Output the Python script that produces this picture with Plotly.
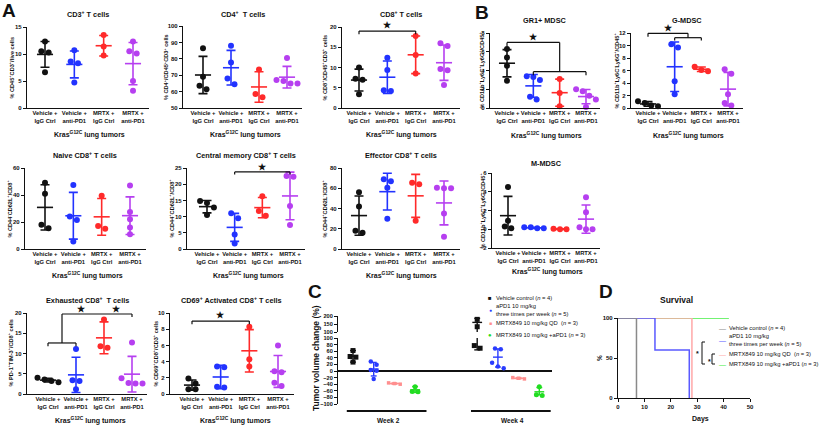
import numpy as np
import plotly.graph_objects as go

W, H = 825, 427
FONT = "Liberation Sans, Arial, Helvetica, sans-serif"

# ---------------- data: panels A / B ----------------
group_labels = ["Vehicle +<br>IgG Ctrl", "Vehicle +<br>anti-PD1", "MRTX +<br>IgG Ctrl", "MRTX +<br>anti-PD1"]
group_colors = ["#111111", "#2233ff", "#ff2a2a", "#b63ff0"]

cd3_values = [[12.3, 10.5, 10.3, 6.6], [10.7, 8.6, 8.3, 4.7], [13.5, 11.4, 9.7], [12.3, 10.5, 10.1, 5.0, 3.2]]
cd4_values = [[86.5, 69.0, 63.5, 61.5], [88.0, 77.7, 68.0, 64.5], [73.5, 58.5, 56.5], [80.5, 67.0, 66.5, 65.0, 65.0]]
cd8_values = [[10.0, 7.2, 7.0, 3.4], [12.4, 9.4, 4.4, 4.2], [17.8, 13.1, 8.5], [16.0, 15.3, 9.6, 9.3, 5.7]]
naive_values = [[49.0, 41.0, 18.0, 15.3], [47.5, 24.0, 21.5, 5.5], [39.5, 17.0, 15.0], [47.0, 27.5, 22.0, 16.0, 11.0]]
cm_values = [[14.8, 14.2, 12.8, 10.5], [11.0, 9.5, 4.5, 1.7], [16.3, 11.7, 10.3], [22.5, 22.3, 13.3, 7.4]]
eff_values = [[56.0, 42.0, 18.0, 16.0], [69.0, 67.0, 60.5, 30.0], [65.5, 64.0, 28.0], [60.5, 60.0, 60.0, 35.0, 12.0]]
exh_values = [[4.0, 3.6, 3.2, 2.9], [11.1, 3.4, 3.2, 1.2], [18.4, 11.8, 11.4], [12.7, 3.9, 2.7, 2.6, 2.6]]
cd69_values = [[1.9, 1.3, 0.6, 0.6], [3.4, 3.3, 0.9, 0.8], [8.3, 4.3, 3.4], [6.0, 2.8, 2.7, 1.4, 1.0]]
gr1_values = [[6.3, 5.4, 4.5, 2.9], [3.4, 3.3, 3.0, 1.2, 0.9], [3.1, 1.6, 0.2], [2.0, 1.8, 1.3, 0.9, 0.1]]
gmdsc_values = [[1.1, 0.8, 0.4, 0.3], [10.2, 9.7, 4.3, 2.2], [6.6, 6.1, 5.9], [6.2, 5.5, 2.2, 0.8, 0.4]]
mmdsc_values = [[4.5, 0.9, 0.3, 0.1], [0.2, 0.1, 0.1, 0.2], [0.05, 0.0, 0.0], [3.4, 1.8, 0.2, 0.0, 0.0]]

cd3_ticks = [0, 5, 10, 15]
cd4_ticks = [50, 60, 70, 80, 90, 100]
cd8_ticks = [0, 5, 10, 15, 20]
naive_ticks = [0, 20, 40, 60]
cm_ticks = [0, 5, 10, 15, 20, 25]
eff_ticks = [0, 20, 40, 60, 80]
exh_ticks = [0, 5, 10, 15, 20]
cd69_ticks = [0, 2, 4, 6, 8, 10]
gr1_ticks = [0, 2, 4, 6, 8]
gmdsc_ticks = [0, 2, 4, 6, 8, 10, 12]
mmdsc_ticks = [-2, 0, 2, 4, 6]

panel_titles = ["CD3<sup>+</sup> T cells", "CD4<sup>+</sup>  T cells", "CD8<sup>+</sup> T cells",
                "Naive CD8<sup>+</sup> T cells", "Central memory CD8<sup>+</sup> T cells", "Effector CD8<sup>+</sup> T cells",
                "Exhausted CD8<sup>+</sup>  T cells", "CD69<sup>+</sup> Activated CD8<sup>+</sup> T cells",
                "GR1+ MDSC", "G-MDSC", "M-MDSC"]
panel_ytitles = ["% CD45<sup>+</sup>CD3<sup>+</sup>/live cells", "% CD4<sup>+</sup>/CD45<sup>+</sup>CD3<sup>+</sup> cells",
                 "% CD8<sup>+</sup>/CD45<sup>+</sup>CD3<sup>+</sup> cells", "% CD44<sup>-</sup>CD62L<sup>+</sup>/CD8<sup>+</sup>",
                 "% CD44<sup>+</sup>CD62L<sup>+</sup>/CD8<sup>+</sup>", "% CD44<sup>+</sup>CD62L<sup>-</sup>/CD8<sup>+</sup>",
                 "% PD-1<sup>+</sup>TIM-3<sup>+</sup>/CD8<sup>+</sup> cells", "% CD69<sup>+</sup>CD8<sup>+</sup>/CD3<sup>+</sup> cells",
                 "% CD11b<sup>+</sup>Ly6C<sup>+</sup>Ly6G<sup>+</sup>/CD45<sup>+</sup>",
                 "% CD11b<sup>+</sup>Ly6C<sup>-</sup>Ly6G<sup>+</sup>/CD45<sup>+</sup>",
                 "% CD11b<sup>+</sup>Ly6C<sup>+</sup>Ly6G<sup>-</sup>/CD45<sup>+</sup>"]
panel_values = [cd3_values, cd4_values, cd8_values, naive_values, cm_values, eff_values,
                exh_values, cd69_values, gr1_values, gmdsc_values, mmdsc_values]
panel_ticks = [cd3_ticks, cd4_ticks, cd8_ticks, naive_ticks, cm_ticks, eff_ticks,
               exh_ticks, cd69_ticks, gr1_ticks, gmdsc_ticks, mmdsc_ticks]
xaxis_title = "Kras<sup>G12C</sup> lung tumors"

# ---------------- data: panel C ----------------
c_labels = ["Vehicle control (<i>n</i> = 4)", "aPD1 10 mg/kg<br>three times per week (<i>n</i> = 5)",
            "MRTX849 10 mg/kg QD  (<i>n</i> = 3)", "MRTX849 10 mg/kg +aPD1 (<i>n</i> = 3)"]
c_colors = ["#111111", "#2a3cff", "#ff8f8f", "#22dd22"]
c_symbols = ["square", "circle", "square", "circle"]
c_weeks = ["Week 2", "Week 4"]
c_points = [
    [[62, 44, 42, 27], [29, 19, 3, 1, -24], [-36, -38, -40], [-48, -62, -63]],
    [[179, 133, 77, 69], [68, 66, 25, 14, 8], [-20, -22, -24], [-48, -72, -74]],
]
c_mean = [[45, 6, -38, -57], [160, 42, -22, -63]]
c_low = [[27, -15, -40, -65], [64, 12, -24, -72]]
c_high = [[62, 26, -36, -47], [185, 67, -20, -50]]
c_ticks_low = [-100, -80, -60, -40, -20, 0, 20, 40, 60, 80, 100]
c_ticks_high = [100, 150, 200]

# ---------------- data: panel D ----------------
d_labels = ["Vehicle control (<i>n</i> = 4)", "aPD1 10 mg/kg<br>three times per week (<i>n</i> = 5)",
            "MRTX849 10 mg/kg QD  (<i>n</i> = 3)", "MRTX849 10 mg/kg +aPD1 (<i>n</i> = 3)"]
d_colors = ["#8a8a8a", "#5a5aff", "#ffa8a8", "#44ee44"]
d_days = [[0, 7], [0, 14, 27], [0, 28], [0, 42]]
d_survival = [[100, 0], [100, 60, 0], [100, 0], [100, 100]]
d_xticks = [0, 10, 20, 30, 40, 50]
d_yticks = [0, 50, 100]

# ---------------- layout geometry (pixels) ----------------
geom = [
    dict(ax=27, c0=45, c3=133, yb=108, yt=27, ytx=11, ty=14, xty=134),
    dict(ax=183, c0=203, c3=287, yb=108, yt=26, ytx=166, ty=14, xty=134),
    dict(ax=342, c0=359, c3=444, yb=108, yt=27, ytx=324, ty=14, xty=134),
    dict(ax=25, c0=45, c3=130, yb=249, yt=168, ytx=9, ty=155, xty=275),
    dict(ax=187, c0=207, c3=290, yb=249, yt=168, ytx=171, ty=155, xty=275),
    dict(ax=342, c0=359, c3=444, yb=249, yt=168, ytx=324, ty=155, xty=275),
    dict(ax=27, c0=48, c3=132, yb=394, yt=313, ytx=10, ty=300, xty=420),
    dict(ax=170, c0=192, c3=278, yb=394, yt=313, ytx=155, ty=300, xty=420),
    dict(ax=490, c0=507, c3=586, yb=108, yt=33, ytx=481, ty=20, xty=135),
    dict(ax=631, c0=648, c3=728, yb=108, yt=33, ytx=616, ty=20, xty=135),
    dict(ax=492, c0=508, c3=586, yb=248, yt=173, ytx=482, ty=163, xty=271),
]

# significance brackets (data coords per panel: segments, stars)
brackets = {
    2: dict(seg=[(0, 19.0, 2, 19.0), (0, 19.0, 0, 18.2), (2, 19.0, 2, 18.2)], stars=[(1, 20.5)]),
    4: dict(seg=[(1, 23.8, 3, 23.8), (1, 23.8, 1, 23.0), (3, 23.8, 3, 23.0)], stars=[(2, 25.4)]),
    6: dict(seg=[(0, 12.6, 1, 12.6), (0, 12.6, 0, 11.8), (1, 12.6, 1, 11.8), (0.5, 12.6, 0.5, 19.75),
                 (0.5, 19.75, 3, 19.75), (3, 19.75, 3, 19.0)], stars=[(1.2, 21.0), (2.45, 21.0)]),
    7: dict(seg=[(0, 9.0, 2, 9.0), (0, 9.0, 0, 8.6), (2, 9.0, 2, 8.6)], stars=[(1, 9.7)]),
    8: dict(seg=[(0, 7.0, 2, 7.0), (0, 7.0, 0, 6.6), (2, 7.0, 2, 3.87), (1, 3.87, 3, 3.87),
                 (1, 3.87, 1, 3.5), (3, 3.87, 3, 3.5)], stars=[(1, 7.6)]),
    9: dict(seg=[(0, 11.95, 1.5, 11.95), (0, 11.95, 0, 11.4), (1.5, 11.95, 1.5, 11.25), (1, 11.25, 2, 11.25),
                 (1, 11.25, 1, 10.8), (2, 11.25, 2, 10.8)], stars=[(0.75, 12.75)]),
}


def PX(x):
    return x / W


def PY(y):
    return 1 - y / H


def axkey(i, letter):
    return f"{letter}axis" if i == 1 else f"{letter}axis{i}"


def ref(i, letter):
    return letter if i == 1 else f"{letter}{i}"


def jitter(vals, span, tol=0.07, step=0.25):
    vals = np.asarray(vals, float)
    order = np.argsort(-vals, kind="stable")
    offs = np.zeros(len(vals))
    clusters, cur = [], [order[0]]
    for a, b in zip(order[:-1], order[1:]):
        if abs(vals[a] - vals[b]) < tol * span:
            cur.append(b)
        else:
            clusters.append(cur)
            cur = [b]
    clusters.append(cur)
    for c in clusters:
        k = len(c)
        for j, idx in enumerate(c):
            offs[idx] = (j - (k - 1) / 2) * step
    return offs


fig = go.Figure()
layout = dict(width=W, height=H, autosize=False, margin=dict(l=0, r=0, t=0, b=0),
              paper_bgcolor="white", plot_bgcolor="white", showlegend=False,
              font=dict(family=FONT, color="#111111", size=6))
annotations = []
shapes = []

AXIS_COMMON = dict(showline=True, linecolor="#111111", linewidth=1.2, showgrid=False, zeroline=False,
                   ticks="outside", tickcolor="#111111", tickwidth=1, fixedrange=True, automargin=False)


def ann(x, y, text, size, bold=True, angle=0, xanchor="center", yanchor="middle", color="#111111", align="center"):
    annotations.append(dict(x=PX(x), y=PY(y), xref="paper", yref="paper", text=text, showarrow=False,
                            textangle=angle, xanchor=xanchor, yanchor=yanchor, align=align,
                            font=dict(family=FONT, size=size, color=color, weight="bold" if bold else "normal")))


def line_px(x0, y0, x1, y1, width=1.2, color="#111111"):
    shapes.append(dict(type="line", xref="paper", yref="paper", x0=PX(x0), y0=PY(y0), x1=PX(x1), y1=PY(y1),
                       line=dict(color=color, width=width)))


# ---------------- panels A & B ----------------
for k in range(len(panel_values)):
    i = k + 1
    g = geom[k]
    ticks = panel_ticks[k]
    sp = (g["c3"] - g["c0"]) / 3
    x_end = g["c3"] + 0.55 * sp
    xr0 = -(g["c0"] - g["ax"]) / sp
    xr1 = (x_end - g["c0"]) / sp
    xref_, yref_ = ref(i, "x"), ref(i, "y")
    layout[axkey(i, "x")] = dict(AXIS_COMMON, domain=[PX(g["ax"]), PX(x_end)], range=[xr0, xr1], anchor=yref_,
                                 tickvals=list(range(len(group_labels))), ticktext=group_labels, ticks="",
                                 tickangle=0, ticklabelstandoff=-1,
                                 tickfont=dict(size=5.8, weight="bold", family=FONT))
    layout[axkey(i, "y")] = dict(AXIS_COMMON, domain=[PY(g["yb"]), PY(g["yt"])], range=[ticks[0], ticks[-1]],
                                 anchor=xref_, tickvals=ticks, ticklen=3,
                                 tickfont=dict(size=6, weight="bold", family=FONT))
    span = ticks[-1] - ticks[0]
    for gi, vals in enumerate(panel_values[k]):
        col = group_colors[gi]
        offs = jitter(vals, span)
        fig.add_trace(go.Scatter(x=gi + offs, y=vals, mode="markers", xaxis=xref_, yaxis=yref_,
                                 marker=dict(size=6, color=col), cliponaxis=False, hoverinfo="skip"))
        m = float(np.mean(vals))
        s = float(np.std(vals, ddof=1))
        fig.add_trace(go.Scatter(x=[gi], y=[m], mode="markers", xaxis=xref_, yaxis=yref_, cliponaxis=False,
                                 marker=dict(symbol="line-ew", size=11.5, color=col, line=dict(color=col, width=1.6)),
                                 error_y=dict(type="data", array=[s], width=4.5, thickness=1.6, color=col),
                                 hoverinfo="skip"))
    cx = (g["ax"] + x_end) / 2
    ann(cx, g["ty"], panel_titles[k], 7.3)
    catc = (g["c0"] + g["c3"]) / 2
    ann(catc, g["xty"], xaxis_title, 7)
    ann(g["ytx"], (g["yb"] + g["yt"]) / 2, panel_ytitles[k], 5.6, angle=-90)

    if k in brackets:
        def tx(xc):
            return g["c0"] + xc * sp

        def ty(v):
            return g["yb"] - (v - ticks[0]) / span * (g["yb"] - g["yt"])

        for (a, b, c, d) in brackets[k]["seg"]:
            line_px(tx(a), ty(b), tx(c), ty(d), width=1.2)
        for (a, b) in brackets[k]["stars"]:
            ann(tx(a), ty(b), "★", 9)

# ---------------- panel C ----------------
CX, CYL, CYU = 12, 12, 13
c_ax0, c_ax1 = 338, 552
c_cat0, c_sp = 353, 20.7
c_xr = [(c_ax0 - c_cat0) / c_sp, (c_ax1 - c_cat0) / c_sp]
layout[axkey(CX, "x")] = dict(domain=[PX(c_ax0), PX(c_ax1)], range=c_xr, visible=False, anchor=ref(CYL, "y"),
                              fixedrange=True)
layout[axkey(CYL, "y")] = dict(AXIS_COMMON, domain=[PY(404), PY(338)], range=[-100, 100], anchor=ref(CX, "x"),
                               tickvals=c_ticks_low, ticklen=3, zeroline=True, zerolinecolor="#111111",
                               zerolinewidth=1.5, tickfont=dict(size=5.6, weight="bold", family=FONT))
layout[axkey(CYU, "y")] = dict(AXIS_COMMON, domain=[PY(332), PY(316)], range=[100, 200], anchor=ref(CX, "x"),
                               tickvals=c_ticks_high, ticklen=3, tickfont=dict(size=5.6, weight="bold", family=FONT))
ngrp = len(c_labels)
sizes = [5, 4.5, 3.5, 5]
for wk in range(len(c_weeks)):
    for gi in range(ngrp):
        xc = wk * (ngrp + 2) + gi
        vals = np.asarray(c_points[wk][gi], float)
        col = c_colors[gi]
        offs = jitter(vals, 200, tol=0.06, step=0.28)
        hi_mask = vals > 100
        for mask, yax in ((~hi_mask, CYL), (hi_mask, CYU)):
            if mask.any():
                fig.add_trace(go.Scatter(x=xc + offs[mask], y=vals[mask], mode="markers", xaxis=ref(CX, "x"),
                                         yaxis=ref(yax, "y"), cliponaxis=False, hoverinfo="skip",
                                         marker=dict(size=sizes[gi], color=col, symbol=c_symbols[gi])))
        lo, hi, mu = c_low[wk][gi], c_high[wk][gi], c_mean[wk][gi]
        segs = []
        if lo < 100:
            segs.append((lo, min(hi, 100), CYL))
        if hi > 100:
            segs.append((max(lo, 100), hi, CYU))
        for (a, b, yax) in segs:
            fig.add_trace(go.Scatter(x=[xc, xc], y=[a, b], mode="lines", xaxis=ref(CX, "x"), yaxis=ref(yax, "y"),
                                     line=dict(color=col, width=1.4), cliponaxis=False, hoverinfo="skip"))
        for v, sz in ((lo, 4.2), (hi, 4.2), (mu, 7)):
            yax = CYU if v > 100 else CYL
            fig.add_trace(go.Scatter(x=[xc], y=[v], mode="markers", xaxis=ref(CX, "x"), yaxis=ref(yax, "y"),
                                     cliponaxis=False, hoverinfo="skip",
                                     marker=dict(symbol="line-ew", size=sz, line=dict(color=col, width=1.4))))
    x0 = PX(c_cat0 + (wk * (ngrp + 2) - 0.3) * c_sp)
    x1 = PX(c_cat0 + (wk * (ngrp + 2) + ngrp - 1 + 0.55) * c_sp)
    shapes.append(dict(type="line", xref="paper", yref="paper", x0=x0, x1=x1, y0=PY(411), y1=PY(411),
                       line=dict(color="#111111", width=1.8)))
    ann(c_cat0 + (wk * (ngrp + 2) + (ngrp - 1) / 2 + 0.2) * c_sp, 420, c_weeks[wk], 6.5)

ann(316, 358, "Tumor volume change (%)", 8.5, angle=-90)
c_leg_y = [298, 310, 323, 335]
c_glyph = ["■", "●", "■", "●"]
c_glyph_size = [6, 5, 5, 6]
for gi in range(ngrp):
    ann(490, c_leg_y[gi], c_glyph[gi], c_glyph_size[gi], bold=False, color=c_colors[gi])
    ann(494, c_leg_y[gi], c_labels[gi], 5.8, bold=False, xanchor="left", align="left")

# ---------------- panel D ----------------
DX = 14
layout[axkey(DX, "x")] = dict(AXIS_COMMON, domain=[PX(618), PX(750)], range=[0, 50], anchor=ref(DX, "y"),
                              tickvals=d_xticks, ticklen=3, tickfont=dict(size=6, weight="bold", family=FONT))
layout[axkey(DX, "y")] = dict(AXIS_COMMON, domain=[PY(398), PY(318)], range=[0, 100], anchor=ref(DX, "x"),
                              tickvals=d_yticks, ticklen=3, tickfont=dict(size=6, weight="bold", family=FONT))
for gi in reversed(range(len(d_labels))):
    fig.add_trace(go.Scatter(x=d_days[gi], y=d_survival[gi], mode="lines", line_shape="hv",
                             line=dict(color=d_colors[gi], width=1.5), xaxis=ref(DX, "x"), yaxis=ref(DX, "y"),
                             cliponaxis=False, hoverinfo="skip"))
ann(676, 300, "Survival", 8.5)
ann(700, 419, "Days", 7)
ann(599, 358, "%", 6.5, angle=-90)
d_leg_y = [328, 340, 354, 364]
for gi in range(len(d_labels)):
    ann(722, d_leg_y[gi], "—", 7, bold=False, color=d_colors[gi])
    ann(727, d_leg_y[gi], d_labels[gi], 5.8, bold=False, xanchor="left", align="left")
line_px(702, 342, 702, 364, width=1)
line_px(702, 342, 705, 342, width=1)
line_px(702, 364, 705, 364, width=1)
line_px(712, 354, 712, 364, width=1)
line_px(712, 354, 715, 354, width=1)
line_px(712, 364, 715, 364, width=1)
ann(697, 353, "*", 7)
ann(709, 361, "*", 7)

# ---------------- panel letters ----------------
ann(9, 10, "A", 19)
ann(482, 12, "B", 19)
ann(315, 291, "C", 19)
ann(606, 291, "D", 19)

layout["annotations"] = annotations
layout["shapes"] = shapes
fig.update_layout(**layout)
fig.write_html("out.html", config={"displayModeBar": False},
               post_script="document.body.style.margin='0';document.body.style.overflow='hidden';")
